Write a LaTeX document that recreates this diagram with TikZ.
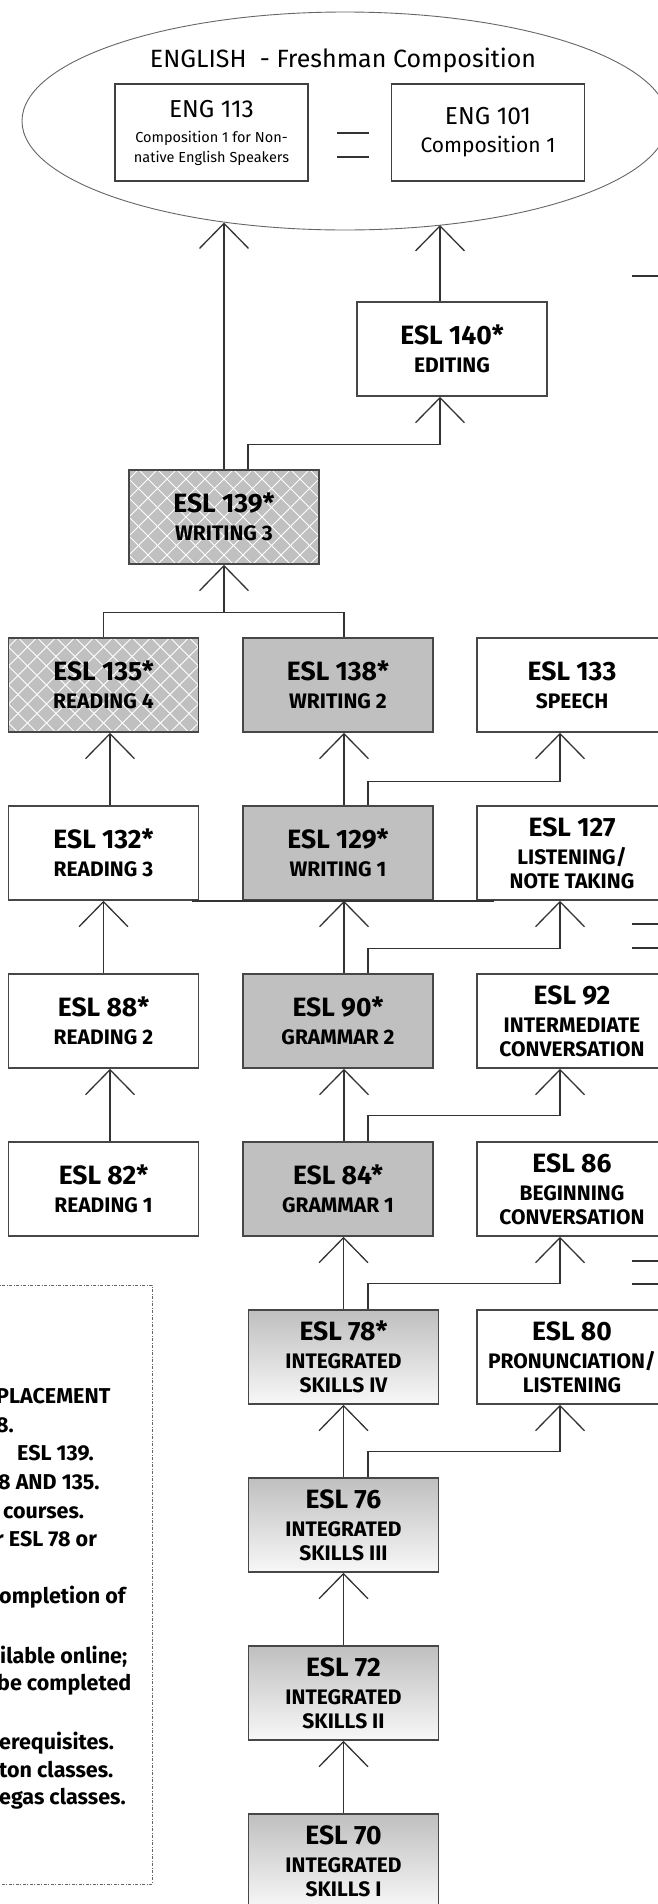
\documentclass[tikz,border=0pt]{standalone}
\usepackage{fontspec}
\setmainfont{Fira Sans}
\usetikzlibrary{arrows.meta,shapes.geometric}
\definecolor{boxgray}{HTML}{C0C0C0}
\definecolor{linegray}{HTML}{333333}
\newcommand\codefont{\bfseries\fontsize{26.5}{28}\selectfont}
\newcommand\engbig{\fontsize{24.5}{28}\selectfont}
\begin{document}
\begin{tikzpicture}[x=1pt,y=-1pt,
  box/.style={draw=black!72, line width=1.6pt, minimum width=190pt, minimum height=94pt,
    inner sep=0pt, align=center, font=\bfseries\fontsize{21}{24}\selectfont, text=black},
  plain/.style={box, fill=white},
  grey/.style={box, fill=boxgray},
  hatched/.style={grey, path picture={
     \foreach \k in {-9,...,9}{
       \draw[white, line width=0.8pt] ([xshift=\k*19pt]path picture bounding box.center) ++(-120pt,-120pt) -- ++(240pt,240pt);
       \draw[white, line width=0.8pt] ([xshift=\k*19pt]path picture bounding box.center) ++(-120pt,120pt) -- ++(240pt,-240pt);
     }}},
  grad/.style={box, top color=black!25, bottom color=black!3},
  engbox/.style={draw=black!75, line width=1.4pt, minimum width=193pt, minimum height=97pt,
    inner sep=0pt, align=center, fill=white},
  conn/.style={draw=linegray, line width=1.3pt},
  arr/.style={conn, -{Straight Barb[length=25pt,width=49pt]}},
  legend/.style={font=\bfseries\fontsize{21.5}{24}\selectfont, anchor=base west, inner sep=0pt}
]
\useasboundingbox (0,0) rectangle (657,1904);
\fill[white] (0,0) rectangle (657,1904);

% ---- top: English composition
\node[draw=black!60, line width=0.9pt, ellipse, minimum width=646pt, minimum height=218pt, inner sep=0pt] (eng) at (345,121) {};
\node[font=\fontsize{25}{28}\selectfont, inner sep=0pt] (title) at (343,60) {ENGLISH\ \ - Freshman Composition};
\node[engbox, font=\fontsize{14.5}{20}\selectfont] (eng113) at (211.5,132.5)
  {{\engbig ENG 113}\\[5pt]Composition 1 for Non-\\native English Speakers};
\node[engbox, font=\fontsize{21}{28}\selectfont] (eng101) at (488,132.5)
  {{\engbig ENG 101}\\Composition 1};
\coordinate (eq1a) at (337,133); \coordinate (eq1b) at (369,133);
\coordinate (eq2a) at (337,157); \coordinate (eq2b) at (369,157);
\draw[conn] (eq1a) -- (eq1b);
\draw[conn] (eq2a) -- (eq2b);

% ---- boxes
\node[plain]   (esl140) at (452,349) {{\codefont ESL 140*}\\[4pt]EDITING};
\node[hatched] (esl139) at (224,517) {{\codefont ESL 139*}\\[4pt]WRITING 3};

\node[hatched] (esl135) at (103.5,685) {{\codefont ESL 135*}\\[4pt]READING 4};
\node[grey]    (esl138) at (338,685)   {{\codefont ESL 138*}\\[4pt]WRITING 2};
\node[plain]   (esl133) at (572,685)   {{\codefont ESL 133}\\[4pt]SPEECH};

\node[plain]   (esl132) at (103.5,853) {{\codefont ESL 132*}\\[4pt]READING 3};
\node[grey]    (esl129) at (338,853)   {{\codefont ESL 129*}\\[4pt]WRITING 1};
\node[plain]   (esl127) at (572,853)   {{\codefont ESL 127}\\[4pt]LISTENING/\\NOTE TAKING};

\node[plain]   (esl88) at (103.5,1021) {{\codefont ESL 88*}\\[4pt]READING 2};
\node[grey]    (esl90) at (338,1021)   {{\codefont ESL 90*}\\[4pt]GRAMMAR 2};
\node[plain]   (esl92) at (572,1021)   {{\codefont ESL 92}\\[4pt]INTERMEDIATE\\CONVERSATION};

\node[plain]   (esl82) at (103.5,1189) {{\codefont ESL 82*}\\[4pt]READING 1};
\node[grey]    (esl84) at (338,1189)   {{\codefont ESL 84*}\\[4pt]GRAMMAR 1};
\node[plain]   (esl86) at (572,1189)   {{\codefont ESL 86}\\[4pt]BEGINNING\\CONVERSATION};

\node[grad]    (esl78) at (343.5,1357) {{\codefont ESL 78*}\\[4pt]INTEGRATED\\SKILLS IV};
\node[plain]   (esl80) at (572,1357)   {{\codefont ESL 80}\\[4pt]PRONUNCIATION/\\LISTENING};
\node[grad]    (esl76) at (343.5,1525) {{\codefont ESL 76}\\[4pt]INTEGRATED\\SKILLS III};
\node[grad]    (esl72) at (343.5,1693) {{\codefont ESL 72}\\[4pt]INTEGRATED\\SKILLS II};
\node[grad]    (esl70) at (343.5,1861) {{\codefont ESL 70}\\[4pt]INTEGRATED\\SKILLS I};

% ---- connectors
\coordinate (t1) at (224,222.5);
\coordinate (t2) at (440,225);
\draw[arr] (esl139.north) -- (t1);
\draw[arr] ([xshift=-12pt]esl140.north) -- (t2);
\draw[arr] ([xshift=24pt]esl139.north) -- ++(0,-25) -| ([xshift=-12pt]esl140.south);

\coordinate (j1) at (224,613);
\draw[conn] (esl135.north) -- ++(0,-25) -| ([xshift=6pt]esl138.north);
\draw[arr] (j1) -- (esl139.south);

\draw[arr] ([xshift=6.5pt]esl132.north) -- ([xshift=6.5pt]esl135.south);
\draw[arr] ([xshift=6pt]esl129.north) -- ([xshift=6pt]esl138.south);
\draw[arr] ([xshift=30pt]esl129.north) -- ++(0,-24) -| ([xshift=-12pt]esl133.south);

\coordinate (h1) at (192,901); \coordinate (h2) at (494,901);
\draw[conn] (h1) -- (h2);

\draw[arr] (esl88.north) -- (esl132.south);
\draw[arr] ([xshift=6pt]esl90.north) -- ([xshift=6pt]esl129.south);
\draw[arr] ([xshift=30pt]esl90.north) -- ++(0,-25) -| ([xshift=-12pt]esl127.south);

\draw[arr] ([xshift=6.5pt]esl82.north) -- ([xshift=6.5pt]esl88.south);
\draw[arr] ([xshift=6pt]esl84.north) -- ([xshift=6pt]esl90.south);
\draw[arr] ([xshift=30pt]esl84.north) -- ++(0,-26) -| ([xshift=-12pt]esl92.south);

\draw[arr] (esl78.north) -- (esl78.north |- esl84.south);
\draw[arr] ([xshift=24.5pt]esl78.north) -- ++(0,-26) -| ([xshift=-12pt]esl86.south);
\draw[arr] (esl76.north) -- (esl78.south);
\draw[arr] ([xshift=24.5pt]esl76.north) -- ++(0,-26) -| ([xshift=-12pt]esl80.south);
\draw[arr] (esl72.north) -- (esl76.south);
\draw[arr] (esl70.north) -- (esl72.south);

% ---- stubs at the right edge (connectors from outside the view)
\coordinate (s1) at (632,276);  \draw[conn] (s1) -- ++(30,0);
\coordinate (s2) at (632,924);  \draw[conn] (s2) -- ++(30,0);
\coordinate (s3) at (632,948);  \draw[conn] (s3) -- ++(30,0);
\coordinate (s4) at (632,1261); \draw[conn] (s4) -- ++(30,0);
\coordinate (s5) at (632,1284); \draw[conn] (s5) -- ++(30,0);

% ---- legend (cut at the left edge)
\draw[black!60, line width=1pt, dash pattern=on 3pt off 1.5pt on 1pt off 1.5pt]
  (-5,1285) -- (152,1285) -- (152,1884) -- (-5,1884);
\node[legend] (l1)  at (-4,1403)  {PLACEMENT};
\node[legend] (l2)  at (-4,1432)  {8.};
\node[legend] (l3)  at (17,1460)  {ESL 139.};
\node[legend] (l4)  at (-2,1489)  {8 AND 135.};
\node[legend] (l5)  at (3,1518)   {courses.};
\node[legend] (l6)  at (-5,1546)  {r ESL 78 or};
\node[legend] (l7)  at (-1,1603)  {ompletion of};
\node[legend] (l8)  at (0,1663)   {ilable online;};
\node[legend] (l9)  at (-3,1690)  {be completed};
\node[legend] (l10) at (-1,1749)  {erequisites.};
\node[legend] (l11) at (-1,1777)  {ton classes.};
\node[legend] (l12) at (-1,1804)  {egas classes.};
\end{tikzpicture}
\end{document}
